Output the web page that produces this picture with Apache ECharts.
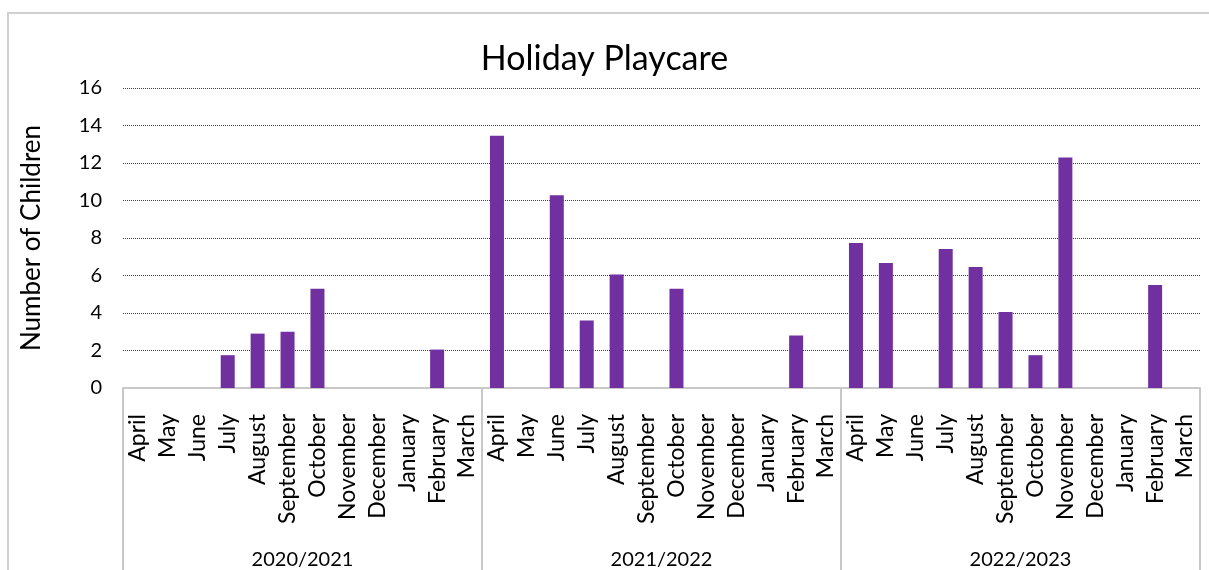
<!DOCTYPE html>
<html>
<head>
<meta charset="utf-8">
<script src="https://cdn.jsdelivr.net/npm/echarts@6/dist/echarts.min.js"></script>
<style>
html,body{margin:0;padding:0;background:#fff;}
#chart{width:1209px;height:570px;}
</style>
</head>
<body>
<div id="chart"></div>
<script>
const months = ["April","May","June","July","August","September","October","November","December","January","February","March"];
const years = ["2020/2021","2021/2022","2022/2023"];
const values2020 = [null,null,null,1.75,2.9,3.0,5.3,null,null,null,2.05,null];
const values2021 = [13.45,null,10.28,3.6,6.05,null,5.3,null,null,null,2.8,null];
const values2022 = [7.73,6.67,null,7.42,6.45,4.05,1.75,12.3,null,null,5.5,null];
const yTicks = {min:0,max:16,interval:2};

const categories = [];
years.forEach(y => months.forEach(m => categories.push(m)));
const values = [].concat(values2020, values2021, values2022);

const FONT = "Lato, sans-serif";
const chart = echarts.init(document.getElementById('chart'));
chart.setOption({
  animation:false,
  backgroundColor:'#fff',
  title:{text:'Holiday Playcare',left:'center',top:37,textStyle:{fontFamily:FONT,fontSize:34,fontWeight:'normal',color:'#000'}},
  graphic:[{type:'rect',shape:{x:8,y:13,width:1400,height:700},style:{fill:'none',stroke:'#d0d0d0',lineWidth:2},silent:true}],
  grid:{left:123,right:9,top:88,bottom:180},
  xAxis:[
    {type:'category',data:categories,
     axisLine:{lineStyle:{color:'#c8c8c8',width:2}},
     axisTick:{show:false},
     axisLabel:{interval:0,rotate:90,margin:26,fontFamily:FONT,fontSize:23,color:'#000'}},
    {type:'category',data:years,position:'bottom',
     axisLine:{show:false},
     axisTick:{show:true,interval:0,length:185,lineStyle:{color:'#c8c8c8',width:2}},
     axisLabel:{interval:0,margin:162,fontFamily:FONT,fontSize:20,color:'#000'}}
  ],
  yAxis:{type:'value',min:yTicks.min,max:yTicks.max,interval:yTicks.interval,
    name:'Number of Children',nameLocation:'middle',nameRotate:90,nameGap:78,
    nameTextStyle:{fontFamily:FONT,fontSize:26,color:'#000'},
    axisLine:{show:false},axisTick:{show:false},
    axisLabel:{margin:21,fontFamily:FONT,fontSize:20,color:'#000'},
    splitLine:{lineStyle:{type:'dotted',color:'#404040',width:1}}},
  series:[{type:'bar',data:values,barWidth:14,itemStyle:{color:'#7030A0'},xAxisIndex:0}]
});
</script>
</body>
</html>
